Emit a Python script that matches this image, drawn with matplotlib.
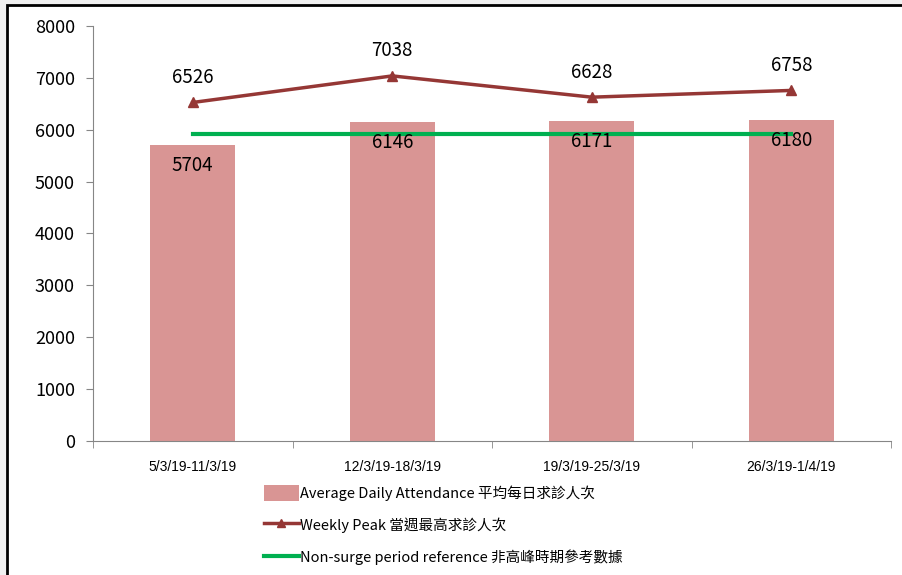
import matplotlib.pyplot as plt
from matplotlib.patches import Rectangle
from matplotlib.lines import Line2D
from matplotlib.patches import Patch

plt.rcParams['font.family'] = ['Noto Sans CJK TC', 'DejaVu Sans']

# data
weeks = ['5/3/19-11/3/19', '12/3/19-18/3/19', '19/3/19-25/3/19', '26/3/19-1/4/19']
avg_daily = [5704, 6146, 6171, 6180]
weekly_peak = [6526, 7038, 6628, 6758]
non_surge = [5910, 5910, 5910, 5910]

bar_color = '#d99594'
peak_color = '#953735'
ref_color = '#00b050'
axis_color = '#868686'

fig = plt.figure(figsize=(9.02, 5.75), dpi=100)
fig.patch.set_facecolor('#f0f0f0')
# white panel with black frame (top and left edges visible)
fig.patches.append(Rectangle((7/902, -0.01), 1.0, 1 - 5/575 + 0.01,
                             transform=fig.transFigure, facecolor='white',
                             edgecolor='black', linewidth=2, zorder=-10))

ax = fig.add_axes([93/902, 1 - 441/575, 798/902, 415/575])
ax.set_facecolor('none')
x = list(range(len(weeks)))

ax.bar(x, avg_daily, width=0.425, color=bar_color, zorder=2)
ax.plot(x, weekly_peak, color=peak_color, lw=2.5, marker='^', ms=7, zorder=3)
ax.plot(x, non_surge, color=ref_color, lw=3, zorder=4)

for i, v in enumerate(avg_daily):
    ax.text(i, v - 190, str(v), ha='center', va='top', fontsize=13.5, zorder=5)
for i, v in enumerate(weekly_peak):
    ax.text(i, v + 280, str(v), ha='center', va='bottom', fontsize=13.5, zorder=5)

ax.set_xlim(-0.5, 3.5)
ax.set_ylim(0, 8000)
ax.set_yticks(range(0, 8001, 1000))
ax.tick_params(axis='y', labelsize=13, colors=axis_color, labelcolor='black', length=5, pad=8)
ax.set_xticks(x)
ax.set_xticklabels(weeks, fontsize=10, family='Liberation Sans')
ax.set_xticks([-0.5, 0.5, 1.5, 2.5, 3.5], minor=True)
ax.tick_params(axis='x', which='major', length=0, pad=14)
ax.tick_params(axis='x', which='minor', length=5, color=axis_color)
for s in ['top', 'right']:
    ax.spines[s].set_visible(False)
for s in ['left', 'bottom']:
    ax.spines[s].set_color(axis_color)

handles = [
    Patch(facecolor=bar_color, label='Average Daily Attendance 平均每日求診人次'),
    Line2D([], [], color=peak_color, lw=2.5, marker='^', ms=6, label='Weekly Peak 當週最高求診人次'),
    Line2D([], [], color=ref_color, lw=3, label='Non-surge period reference 非高峰時期參考數據'),
]
fig.legend(handles=handles, loc='upper left', bbox_to_anchor=(258/902, 1 - 479/575),
           frameon=False, fontsize=10.5, labelspacing=1.12, handlelength=2.4,
           handleheight=1.3, handletextpad=0.1, borderaxespad=0)

fig.savefig('out.png', dpi=100, facecolor=fig.get_facecolor())
